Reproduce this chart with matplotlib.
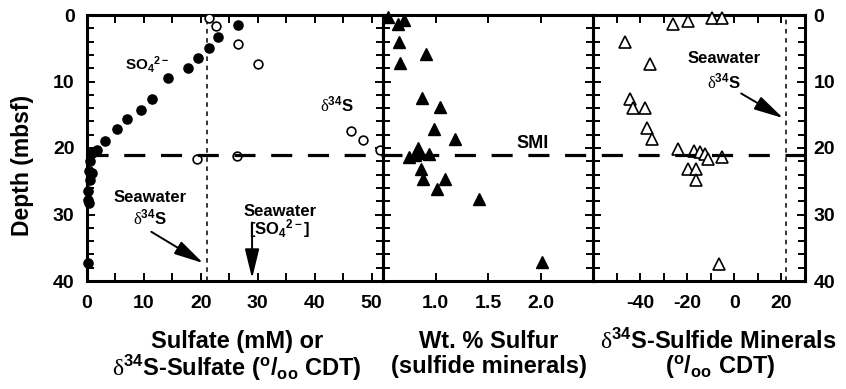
import matplotlib
matplotlib.use('Agg')
import matplotlib.pyplot as plt
from matplotlib.ticker import MultipleLocator, FixedLocator
from matplotlib import transforms
from matplotlib.lines import Line2D

plt.rcParams['font.family'] = ['Liberation Sans', 'DejaVu Sans']
plt.rcParams['font.weight'] = 'bold'
plt.rcParams['mathtext.fontset'] = 'custom'
plt.rcParams['mathtext.rm'] = 'Liberation Serif:weight=normal'
plt.rcParams['mathtext.bf'] = 'Liberation Sans:weight=bold'
plt.rcParams['mathtext.it'] = 'Liberation Sans:weight=bold'
plt.rcParams['mathtext.default'] = 'bf'
plt.rcParams['axes.unicode_minus'] = False

# ---------------- data ----------------
so4_mM = [26.5, 23.1, 21.4, 19.5, 17.8, 14.3, 11.4, 9.4, 7.0, 5.3, 3.2, 1.8, 0.8,
          0.5, 0.4, 0.8, 0.6, 0.1, 0.2, 0.4, 0.2]
so4_depth = [1.5, 3.3, 4.9, 6.5, 8.0, 9.5, 12.7, 14.3, 15.7, 17.2, 18.9, 20.3, 20.8,
             22.0, 23.4, 23.8, 24.8, 26.4, 27.8, 28.3, 37.3]

d34s_sulfate = [21.4, 22.7, 26.5, 30.0, 46.4, 48.4, 51.5, 19.4, 26.4]
d34s_sulfate_depth = [0.5, 1.6, 4.3, 7.4, 17.4, 18.8, 20.3, 21.6, 21.2]

wt_s = [0.55, 0.64, 0.70, 0.65, 0.66, 0.91, 0.87, 1.04, 0.99, 1.19, 0.83, 0.84,
        0.75, 0.80, 0.94, 0.86, 0.88, 1.09, 1.01, 1.41, 2.01]
wt_s_depth = [0.25, 1.35, 0.75, 4.0, 7.2, 5.8, 12.5, 13.9, 17.1, 18.7, 20.0, 20.8,
              21.3, 21.05, 20.9, 23.1, 24.7, 24.7, 26.2, 27.7, 37.2]

d34s_sulfide = [-46.4, -36.0, -26.1, -19.6, -9.3, -5.3, -44.3, -43.1, -38.1, -36.9,
                -35.0, -23.8, -17.1, -14.6, -12.4, -11.0, -5.3, -19.7, -16.4, -16.1, -6.7]
d34s_sulfide_depth = [4.0, 7.3, 1.35, 0.85, 0.5, 0.5, 12.6, 14.0, 14.0, 17.0,
                      18.7, 20.1, 20.5, 20.6, 20.9, 21.7, 21.3, 23.2, 23.2, 24.8, 37.5]

smi_depth = 21
seawater_d34s = 21
seawater_so4 = 29

depth_ticks = [0, 10, 20, 30, 40]
left_xticks = [0, 10, 20, 30, 40, 50]
mid_xticks = [1.0, 1.5, 2.0]
mid_xticklabels = ['1.0', '1.5', '2.0']
right_xticks = [-40, -20, 0, 20]

# ---------------- layout ----------------
W, H = 846, 389
fig = plt.figure(figsize=(W / 100, H / 100), dpi=100)


def px_axes(x0, x1, y0=15, y1=281):
    return fig.add_axes([x0 / W, 1 - y1 / H, (x1 - x0) / W, (y1 - y0) / H])


ax1 = px_axes(87, 383)
ax2 = px_axes(383, 593)
ax3 = px_axes(593, 805)

for ax in (ax1, ax2, ax3):
    ax.set_ylim(40, 0)
    for sp in ax.spines.values():
        sp.set_linewidth(2.2)
    ax.yaxis.set_major_locator(FixedLocator(depth_ticks))
    ax.yaxis.set_minor_locator(MultipleLocator(2))
    ax.tick_params(which='both', direction='in', top=True, bottom=True,
                   left=True, right=True, width=1.4, labelsize=14)
    ax.tick_params(which='major', length=6)
    ax.tick_params(which='minor', length=5)
    ax.tick_params(axis='x', pad=10)
    ax.set_facecolor('none')

ax1.tick_params(axis='y', pad=9)
ax2.tick_params(axis='y', labelleft=False)
ax3.tick_params(axis='y', labelleft=False, labelright=True, pad=6)

# ---- panel 1 ----
ax1.set_xlim(0, 52)
ax1.xaxis.set_major_locator(FixedLocator(left_xticks))
ax1.xaxis.set_minor_locator(MultipleLocator(5))
ax1.tick_params(axis='x', which='minor', length=6)
ax1.axvline(seawater_d34s, color='black', lw=1.1, dashes=(3, 3), zorder=1)
ax1.plot(d34s_sulfate, d34s_sulfate_depth, 'o', ms=6.3, mfc='white', mec='black',
         mew=1.2, zorder=3)
ax1.plot(so4_mM, so4_depth, 'o', ms=6.6, color='black', clip_on=False, zorder=4)

ax1.text(10.5, 7.4, r'SO$_4$$^{2-}$', fontsize=11, ha='center', va='center')
ax1.text(43.9, 13.4, r'$\mathrm{\delta}^{34}$S', fontsize=12, ha='center', va='center')
ax1.text(11.0, 27.5, 'Seawater', fontsize=12, ha='center', va='center')
ax1.text(11.0, 30.4, r'$\mathrm{\delta}^{34}$S', fontsize=12, ha='center', va='center')
ax1.text(33.9, 29.5, 'Seawater', fontsize=12, ha='center', va='center')
ax1.text(33.9, 32.1, r'[SO$_4$$^{2-}$]', fontsize=12, ha='center', va='center')

arrow_kw = dict(arrowstyle='-|>,head_length=0.9,head_width=0.22', color='black',
                lw=1.4, mutation_scale=20, shrinkA=0, shrinkB=0)
ax1.annotate('', xy=(20.4, 37.3), xytext=(11.3, 32.6), arrowprops=arrow_kw)
ax1.annotate('', xy=(seawater_so4, 39.6), xytext=(seawater_so4, 31.2),
             arrowprops=arrow_kw)

# ---- panel 2 ----
ax2.set_xlim(0.5, 2.5)
ax2.xaxis.set_major_locator(FixedLocator(mid_xticks))
ax2.set_xticklabels(mid_xticklabels)
ax2.plot(wt_s, wt_s_depth, '^', ms=8, color='black', clip_on=False, zorder=4)
ax2.text(1.92, 19.3, 'SMI', fontsize=13, ha='center', va='center')

# ---- panel 3 ----
ax3.set_xlim(-60, 30)
ax3.xaxis.set_major_locator(FixedLocator(right_xticks))
ax3.xaxis.set_minor_locator(MultipleLocator(10))
ax3.tick_params(axis='x', which='minor', length=6)
ax3.axvline(seawater_d34s + 0.8, color='black', lw=1.1, dashes=(3, 3), zorder=1)
ax3.plot(d34s_sulfide, d34s_sulfide_depth, '^', ms=8.2, mfc='white', mec='black',
         mew=1.2, clip_on=False, zorder=4)
ax3.text(-4.3, 6.5, 'Seawater', fontsize=12, ha='center', va='center')
ax3.text(-4.3, 10.0, r'$\mathrm{\delta}^{34}$S', fontsize=12, ha='center', va='center')
ax3.annotate('', xy=(20.7, 15.5), xytext=(2.9, 11.8), arrowprops=arrow_kw)

# ---- SMI dashed line across all panels ----
tr = transforms.blended_transform_factory(fig.transFigure, ax1.transData)
fig.add_artist(Line2D([87 / W, 805 / W], [smi_depth, smi_depth], transform=tr,
                      color='black', lw=2.3, dashes=(6.6, 4.9), zorder=5))

# ---- labels ----
def ftext(x, y, s, **kw):
    fig.text(x / W, 1 - y / H, s, ha='center', va='center', **kw)

ftext(23, 165, 'Depth (mbsf)', fontsize=16.5, rotation=90)
ftext(236.7, 341.7, 'Sulfate (mM) or', fontsize=17)
ftext(236.7, 368, r'$\mathrm{\delta}^{34}$S-Sulfate ($^{o}$/$_{oo}$ CDT)', fontsize=17)
ftext(488.8, 341.7, 'Wt. % Sulfur', fontsize=17)
ftext(488.8, 367, '(sulfide minerals)', fontsize=17)
ftext(718, 341.7, r'$\mathrm{\delta}^{34}$S-Sulfide Minerals', fontsize=17)
ftext(720, 367, r'($^{o}$/$_{oo}$ CDT)', fontsize=17)

fig.savefig('out.png', dpi=100)
